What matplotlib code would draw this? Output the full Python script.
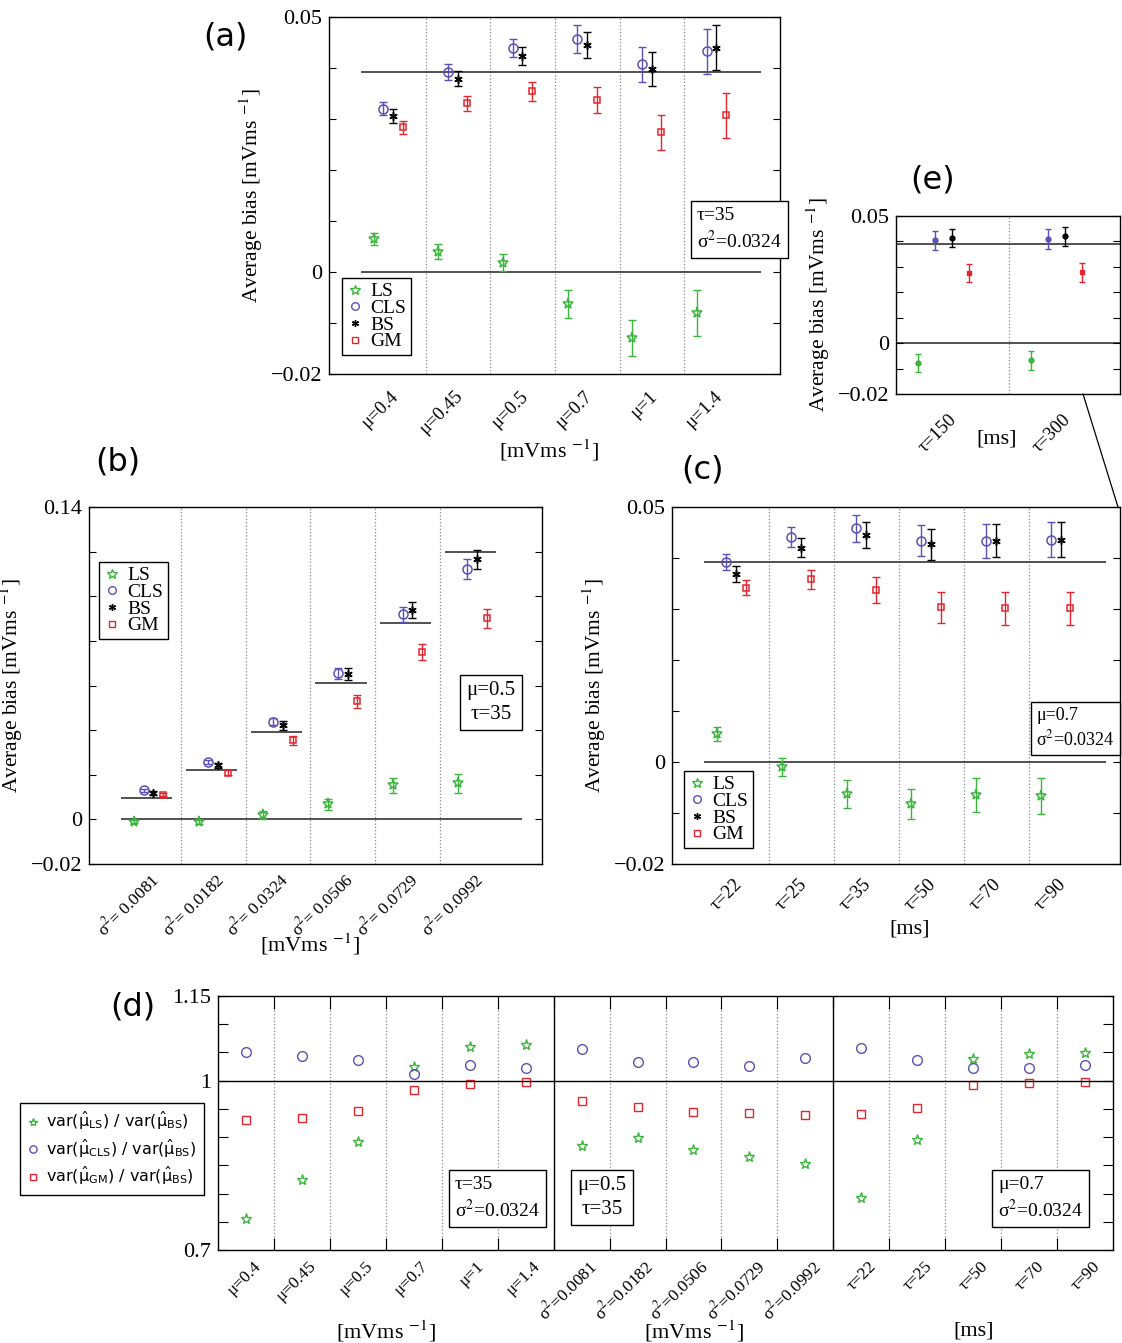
import numpy as np
import matplotlib.pyplot as plt
from matplotlib.lines import Line2D
from matplotlib.font_manager import FontProperties

plt.rcParams['font.family'] = ['Liberation Serif', 'DejaVu Serif']
plt.rcParams['mathtext.fontset'] = 'stix'
plt.rcParams['axes.linewidth'] = 1.0

W, H = 1122, 1343

# ---------------- data ----------------
mu_labels = ['μ=0.4', 'μ=0.45', 'μ=0.5', 'μ=0.7', 'μ=1', 'μ=1.4']
sig_labels_b = ['σ$^2$= 0.0081', 'σ$^2$= 0.0182', 'σ$^2$= 0.0324',
                'σ$^2$= 0.0506', 'σ$^2$= 0.0729', 'σ$^2$= 0.0992']
tau_labels_c = ['τ=22', 'τ=25', 'τ=35', 'τ=50', 'τ=70', 'τ=90']
tau_labels_e = ['τ=150', 'τ=300']

# (a) bias vs mu
a_ls = [0.0065, 0.0040, 0.0018, -0.0063, -0.0130, -0.0081]
a_ls_err = [0.0012, 0.0014, 0.0017, 0.0027, 0.0035, 0.0045]
a_cls = [0.0320, 0.0392, 0.0439, 0.0457, 0.0407, 0.0433]
a_cls_err = [0.0013, 0.0016, 0.0018, 0.0027, 0.0035, 0.0044]
a_bs = [0.0306, 0.0379, 0.0423, 0.0445, 0.0398, 0.0440]
a_bs_err = [0.0013, 0.0015, 0.0018, 0.0026, 0.0034, 0.0044]
a_gm = [0.0284, 0.0331, 0.0354, 0.0337, 0.0274, 0.0307]
a_gm_err = [0.0013, 0.0015, 0.0018, 0.0026, 0.0034, 0.0044]
a_ref = 0.0392

# (b) bias vs sigma^2
b_ls = [-0.0010, -0.0012, 0.0021, 0.0067, 0.0152, 0.0161]
b_ls_err = [0.0006, 0.0008, 0.0018, 0.0026, 0.0035, 0.0041]
b_cls = [0.0130, 0.0257, 0.0438, 0.0654, 0.0919, 0.1121]
b_cls_err = [0.0008, 0.0011, 0.0015, 0.0025, 0.0034, 0.0045]
b_bs = [0.0118, 0.0242, 0.0421, 0.0650, 0.0937, 0.1165]
b_bs_err = [0.0008, 0.0012, 0.0020, 0.0027, 0.0036, 0.0043]
b_gm = [0.0111, 0.0209, 0.0354, 0.0529, 0.0750, 0.0901]
b_gm_err = [0.0008, 0.0011, 0.0020, 0.0028, 0.0035, 0.0043]
b_ref = [0.0097, 0.0220, 0.0390, 0.0613, 0.0881, 0.1198]

# (c) bias vs tau
c_ls = [0.0055, -0.0010, -0.0063, -0.0082, -0.0065, -0.0067]
c_ls_err = [0.0014, 0.0018, 0.0027, 0.0030, 0.0033, 0.0035]
c_cls = [0.0392, 0.0441, 0.0458, 0.0434, 0.0433, 0.0436]
c_cls_err = [0.0016, 0.0020, 0.0027, 0.0031, 0.0033, 0.0034]
c_bs = [0.0369, 0.0420, 0.0445, 0.0427, 0.0434, 0.0436]
c_bs_err = [0.0016, 0.0019, 0.0026, 0.0030, 0.0033, 0.0034]
c_gm = [0.0342, 0.0358, 0.0337, 0.0303, 0.0301, 0.0301]
c_gm_err = [0.0015, 0.0019, 0.0026, 0.0030, 0.0032, 0.0033]
c_ref = 0.0392

# (e) bias for long tau
e_ls = [-0.0077, -0.0068]
e_ls_err = [0.0036, 0.0038]
e_cls = [0.0404, 0.0409]
e_cls_err = [0.0037, 0.0038]
e_bs = [0.0413, 0.0420]
e_bs_err = [0.0036, 0.0038]
e_gm = [0.0275, 0.0278]
e_gm_err = [0.0036, 0.0037]
e_ref = 0.0391

# (d) variance ratios
d_labels = ['μ=0.4', 'μ=0.45', 'μ=0.5', 'μ=0.7', 'μ=1', 'μ=1.4',
            'σ$^2$=0.0081', 'σ$^2$=0.0182', 'σ$^2$=0.0506', 'σ$^2$=0.0729', 'σ$^2$=0.0992',
            'τ=22', 'τ=25', 'τ=50', 'τ=70', 'τ=90']
d_ls = [0.7546, 0.8242, 0.8914, 1.0242, 1.0590, 1.0637,
        0.8850, 0.8985, 0.8773, 0.8643, 0.8519,
        0.7929, 0.8956, 1.0378, 1.0466, 1.0484]
d_cls = [1.0508, 1.0431, 1.0372, 1.0112, 1.0271, 1.0230,
         1.0561, 1.0325, 1.0325, 1.0260, 1.0395,
         1.0572, 1.0366, 1.0218, 1.0230, 1.0271]
d_gm = [0.9304, 0.9333, 0.9469, 0.9829, 0.9935, 0.9971,
        0.9640, 0.9528, 0.9451, 0.9422, 0.9392,
        0.9410, 0.9516, 0.9929, 0.9959, 0.9971]
d_groups = [6, 5, 5]

# ---------------- style ----------------
GREEN = '#3bb53b'
BLUE = '#5a52b4'
RED = '#e2262f'
names = ['LS', 'CLS', 'BS', 'GM']
markers = ['*', 'o', (6, 2, 0), 's']
colors = [GREEN, BLUE, 'k', RED]
sizes = [8, 6.5, 6, 5]
offsets = [-0.225, -0.075, 0.075, 0.225]
YLAB = 'Average bias [mVms $^{-1}$]'
UNIT = '[mVms $^{-1}$]'

fig = plt.figure(figsize=(W / 100, H / 100), dpi=100)


def rect(l, t, r, b):
    return [l / W, 1 - b / H, (r - l) / W, (b - t) / H]


def fp(x, y):
    return x / W, 1 - y / H


def fmt(v):
    if abs(v) < 1e-9:
        return '0'
    s = '%.2f' % abs(v)
    return ('\u2212' + s) if v < 0 else s


def bias_panel(box, vals, errs, ref, labels, ylim, step, shown, sep, xlim,
               small=False, lab_off=0.12, lab_size=13.5, lab_pad=17):
    ax = fig.add_axes(rect(*box))
    n = len(labels)
    x = np.arange(1, n + 1)
    for k in range(4):
        if small:
            ax.errorbar(x + offsets[k], vals[k], yerr=errs[k], fmt='o' if k < 3 else 's',
                        color=colors[k], ms=3.5, elinewidth=1, capsize=2, capthick=1)
        else:
            ax.errorbar(x + offsets[k], vals[k], yerr=errs[k], fmt='none', ecolor=colors[k],
                        elinewidth=1, capsize=3, capthick=1)
            ax.plot(x + offsets[k], vals[k], ls='none', marker=markers[k], color=colors[k],
                    mfc='none' if k != 2 else 'k', ms=sizes[k], mew=1.1)
    lo, hi = (xlim[0], xlim[1]) if small else (0.58, n + 0.77)
    if np.ndim(ref) == 0:
        ax.hlines([0, ref], lo, hi, color='#333333', lw=1.2, zorder=1)
    else:
        ax.hlines(0, lo, hi, color='#333333', lw=1.2, zorder=1)
        ax.hlines(ref, x - 0.42, x + 0.37, color='#333333', lw=1.2, zorder=1)
    for i in range(1, n):
        ax.axvline(i + sep, color='#888888', ls=':', lw=0.9, zorder=0)
    ax.set_xlim(*xlim)
    ax.set_ylim(*ylim)
    yt = np.round(np.arange(ylim[0], ylim[1] + step / 2, step), 4)
    ax.set_yticks(yt)
    ax.set_yticklabels([fmt(v) if any(abs(v - s) < 1e-9 for s in shown) else '' for v in yt])
    ax.tick_params(axis='y', direction='in', right=True, length=5, labelsize=16, pad=5)
    ax.set_xticks(x + lab_off)
    ax.set_xticklabels(labels, rotation=45, ha='right', rotation_mode='anchor', va='center')
    ax.tick_params(axis='x', length=0, pad=lab_pad, labelsize=lab_size)
    ax.set_ylabel(YLAB, fontsize=15.5)
    return ax


def add_legend(ax, anchor):
    hs = [Line2D([], [], ls='none', marker=markers[k], color=colors[k],
                 mfc='none' if k != 2 else 'k', ms=sizes[k] - 1, mew=1) for k in range(4)]
    lg = ax.legend(hs, names, loc='upper left', bbox_to_anchor=fp(*anchor),
                   bbox_transform=fig.transFigure, fontsize=14, handlelength=0.8,
                   handletextpad=0.4, borderpad=0.25, labelspacing=-0.05, borderaxespad=0,
                   fancybox=False, framealpha=1, edgecolor='k')
    lg.get_frame().set_linewidth(1.0)


def textbox(x, y, s, ha='left', size=14):
    fig.text(*fp(x, y), s, ha=ha, va='top', fontsize=size, linespacing=1.35,
             bbox=dict(boxstyle='square,pad=0.3', fc='white', ec='k', lw=1.0))


# (a)
ax_a = bias_panel((329, 17, 780, 374), [a_ls, a_cls, a_bs, a_gm],
                  [a_ls_err, a_cls_err, a_bs_err, a_gm_err], a_ref, mu_labels,
                  (-0.02, 0.05), 0.01, [-0.02, 0, 0.05], 0.58, (0.085, 7.06), lab_pad=14)
ax_a.set_xlabel(UNIT, fontsize=16)
ax_a.xaxis.set_label_coords(0.488, -0.178)
add_legend(ax_a, (342, 278))
textbox(697, 207, 'τ=35\nσ$^{2}$=0.0324')

# (e)
ax_e = bias_panel((896, 216, 1120, 394), [e_ls, e_cls, e_bs, e_gm],
                  [e_ls_err, e_cls_err, e_bs_err, e_gm_err], e_ref, tau_labels_e,
                  (-0.02, 0.05), 0.01, [-0.02, 0, 0.05], 0.58, (0.583, 2.56),
                  small=True, lab_off=0.1)
ax_e.set_xlabel('[ms]', fontsize=16)
ax_e.xaxis.set_label_coords(0.45, -0.20)

# (b)
ax_b = bias_panel((89, 507, 542, 864), [b_ls, b_cls, b_bs, b_gm],
                  [b_ls_err, b_cls_err, b_bs_err, b_gm_err], b_ref, sig_labels_b,
                  (-0.02, 0.14), 0.02, [-0.02, 0, 0.14], 0.5, (0.08, 7.08),
                  lab_size=12.5, lab_pad=9)
ax_b.set_xlabel(UNIT, fontsize=16)
ax_b.xaxis.set_label_coords(0.488, -0.19)
add_legend(ax_b, (99, 562))
textbox(491, 681, 'μ=0.5\nτ=35', ha='center', size=15)

# (c)
ax_c = bias_panel((672, 507, 1120, 864), [c_ls, c_cls, c_bs, c_gm],
                  [c_ls_err, c_cls_err, c_bs_err, c_gm_err], c_ref, tau_labels_c,
                  (-0.02, 0.05), 0.01, [-0.02, 0, 0.05], 0.58, (0.085, 6.99), lab_pad=13)
ax_c.set_xlabel('[ms]', fontsize=16)
ax_c.xaxis.set_label_coords(0.531, -0.155)
add_legend(ax_c, (684, 771))
textbox(1036, 707, 'μ=0.7\nσ$^2$=0.0324', size=13)

# connector between (e) and (c)
fig.add_artist(Line2D([1083 / W, 1118 / W], [1 - 394 / H, 1 - 507 / H], color='k', lw=0.9))

# (d)
ax_d = fig.add_axes(rect(218, 996, 1113, 1250))
nd = len(d_labels)
xd = np.arange(nd) + 0.5
h1, = ax_d.plot(xd, d_ls, ls='none', marker='*', color=GREEN, mfc='none', ms=8, mew=1)
h2, = ax_d.plot(xd, d_cls, ls='none', marker='o', color=BLUE, mfc='none', ms=7, mew=1)
h3, = ax_d.plot(xd, d_gm, ls='none', marker='s', color=RED, mfc='none', ms=6, mew=1)
ax_d.axhline(1, color='k', lw=1.0)
bounds = np.cumsum(d_groups)[:-1]
for i in range(1, nd):
    if i in bounds:
        ax_d.axvline(i, color='k', lw=1.0)
    else:
        ax_d.axvline(i, color='#888888', ls=':', lw=0.9, zorder=0)
ax_d.set_xlim(0, nd)
ax_d.set_ylim(0.7, 1.15)
ydt = np.round(np.arange(0.7, 1.151, 0.05), 2)
ax_d.set_yticks(ydt)
ax_d.set_yticklabels(['0.7' if v == 0.7 else '1' if v == 1.0 else '1.15' if v == 1.15 else ''
                      for v in ydt])
ax_d.tick_params(axis='y', direction='in', right=True, length=7, labelsize=16, pad=5)
ax_d.set_xticks(np.arange(1, nd))
ax_d.set_xticklabels([])
ax_d.tick_params(axis='x', which='major', direction='in', top=True, length=9)
ax_d.set_xticks(xd + 0.22, labels=d_labels, minor=True)
for lbl in ax_d.get_xticklabels(minor=True):
    lbl.set_rotation(45)
    lbl.set_ha('right')
    lbl.set_va('center')
    lbl.set_rotation_mode('anchor')
ax_d.tick_params(axis='x', which='minor', length=0, pad=10, labelsize=12.5)
gstart = np.concatenate([[0], np.cumsum(d_groups)])
for g, unit in enumerate([UNIT, UNIT, '[ms]']):
    cx = (gstart[g] + gstart[g + 1]) / 2
    ax_d.text(cx, -0.32, unit, transform=ax_d.get_xaxis_transform(), ha='center',
              va='center', fontsize=16)

lp = FontProperties(family='DejaVu Sans', size=11.5)
lp.set_math_fontfamily('dejavusans')
lg = ax_d.legend([h1, h2, h3],
                 [r'var($\hat{\mathrm{\mu}}_{\mathrm{LS}}$) / var($\hat{\mathrm{\mu}}_{\mathrm{BS}}$)',
                  r'var($\hat{\mathrm{\mu}}_{\mathrm{CLS}}$) / var($\hat{\mathrm{\mu}}_{\mathrm{BS}}$)',
                  r'var($\hat{\mathrm{\mu}}_{\mathrm{GM}}$) / var($\hat{\mathrm{\mu}}_{\mathrm{BS}}$)'],
                 loc='upper left', bbox_to_anchor=fp(20, 1103), bbox_transform=fig.transFigure,
                 prop=lp, handlelength=0.7, handletextpad=0.5, borderpad=0.45,
                 labelspacing=0.35, borderaxespad=0, fancybox=False, framealpha=1,
                 edgecolor='k', markerscale=0.75)
lg.get_frame().set_linewidth(1.0)
textbox(455, 1176, 'τ=35\nσ$^{2}$=0.0324')
textbox(602, 1176, 'μ=0.5\nτ=35', ha='center', size=15)
textbox(998, 1176, 'μ=0.7\nσ$^2$=0.0324')

# panel letters
for s, (px, py) in zip(['(a)', '(b)', '(c)', '(d)', '(e)'],
                       [(225, 37), (118, 462), (703, 470), (133, 1007), (933, 180)]):
    fig.text(*fp(px, py), s, ha='center', va='center', fontsize=23, family='DejaVu Sans')

fig.savefig('out.png', dpi=100)
